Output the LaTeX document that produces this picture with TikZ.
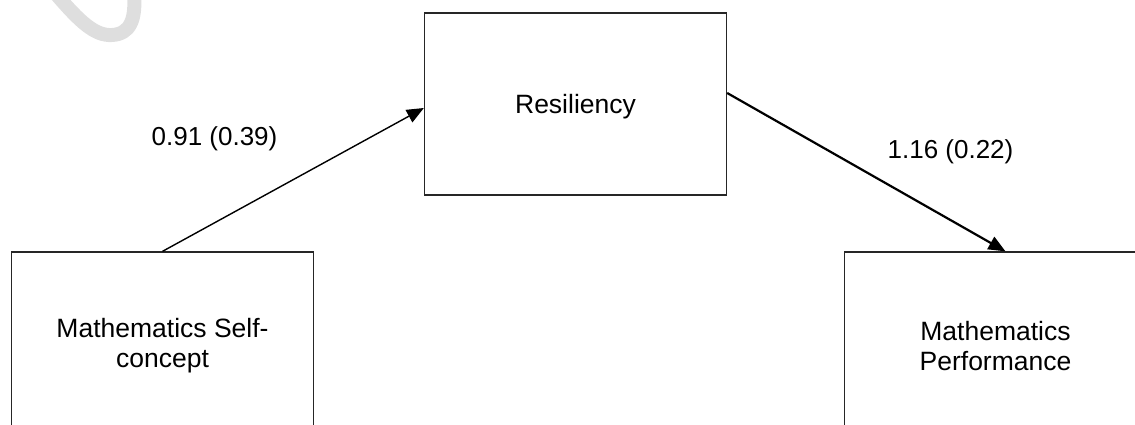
\documentclass[tikz,border=0pt]{standalone}
\usepackage{fontspec}
\setmainfont{Liberation Sans}
\usetikzlibrary{arrows.meta,calc}
\begin{document}
\begin{tikzpicture}[x=1pt,y=-1pt,
  box/.style={draw=black!85, line width=1.3pt, fill=white, minimum width=302pt, inner sep=0pt, align=center, font=\fontsize{26.5}{30}\selectfont},
  lbl/.style={anchor=base, inner sep=0pt, font=\fontsize{26}{30}\selectfont},
  arr/.style={-{Triangle[length=17pt,width=14pt]}, black},
  faintstroke/.style={draw=black!13, line width=14pt}]
\useasboundingbox (0,0) rectangle (1135,425);
\clip (0,0) rectangle (1135,425);
% faint stroke in the top-left corner
\draw[faintstroke] (56,-6) .. controls (80,22) and (95,36) .. (112,35) .. controls (130,34) and (136,20) .. (134,-6);
% boxes
\node[box, minimum height=182pt, text depth=0pt] (res) at (575.5,104) {Resiliency};
\node[box, minimum height=188pt] (ms) at (162.5,346) {Mathematics Self-\\concept};
\node[box, minimum height=188pt] (mp) at (995.5,346) {Mathematics\\Performance};
% connectors
\draw[arr, line width=1.4pt] (ms.north) -- ($(res.west)+(0,4)$);
\draw[arr, line width=2.2pt] ($(res.east)+(0,-11)$) -- ($(mp.north)+(10,0)$);
% labels
\node[lbl] (l1) at (214.5,146) {0.91 (0.39)};
\node[lbl] (l2) at (950.5,158) {1.16 (0.22)};
\end{tikzpicture}
\end{document}
